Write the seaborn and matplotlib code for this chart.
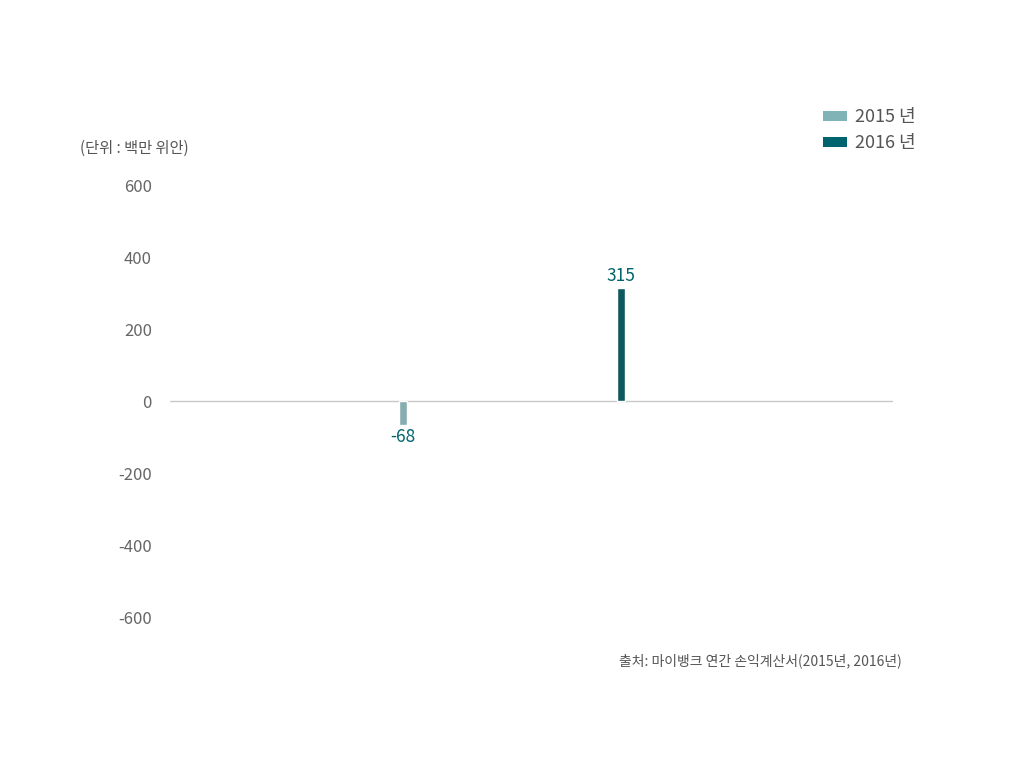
import matplotlib
matplotlib.use("Agg")
import matplotlib.pyplot as plt
import seaborn as sns
import pandas as pd
from matplotlib.patches import Patch

years = ["2015 년", "2016 년"]
values = [-68, 315]
value_labels = ["-68", "315"]
yticks = [-600, -400, -200, 0, 200, 400, 600]
ytick_labels = ["-600", "-400", "-200", "0", "200", "400", "600"]
colors = ["#7fb3b6", "#00646e"]

sns.set_theme(style="white")
plt.rcParams['font.family'] = ['Noto Sans CJK KR', 'DejaVu Sans']

df = pd.DataFrame({"year": years, "value": values})

fig = plt.figure(figsize=(10.24, 7.69), dpi=100)
ax = fig.add_axes([170/1024, 1 - 617/769, (893-170)/1024, (617-185)/769])

sns.barplot(data=df, x="year", y="value", hue="year", palette=colors,
            dodge=False, width=0.037, ax=ax, legend=False)

ax.set_xlim(-1.07, 2.25)
ax.set_ylim(-600, 600)
ax.axhline(0, color="#c8c8c8", lw=1, zorder=0)
for s in ax.spines.values():
    s.set_visible(False)
ax.set_xticks([])
ax.set_xlabel("")
ax.set_ylabel("")
ax.set_yticks(yticks)
ax.set_yticklabels(ytick_labels, color="#666666", fontsize=12)
ax.tick_params(axis="y", length=0, pad=13)

for i, (v, lab) in enumerate(zip(values, value_labels)):
    if v >= 0:
        ax.annotate(lab, (i, v), xytext=(0, 2), textcoords="offset points",
                    ha="center", va="bottom", color="#00646e", fontsize=12.5)
    else:
        ax.annotate(lab, (i, v), xytext=(0, -2), textcoords="offset points",
                    ha="center", va="top", color="#00646e", fontsize=12.5)

handles = [Patch(facecolor=c, edgecolor="none") for c in colors]
fig.legend(handles, years, loc="upper right", bbox_to_anchor=(932/1024, 1 - 92/769),
           frameon=False, fontsize=13, handlelength=1.35, handleheight=0.45,
           labelspacing=0.45, handletextpad=0.45, labelcolor="#555555")

fig.text(80/1024, 1 - 148/769, "(단위 : 백만 위안)", fontsize=11, color="#555555",
         ha="left", va="center")
fig.text(902/1024, 1 - 661/769, "출처: 마이뱅크 연간 손익계산서(2015년, 2016년)", fontsize=10,
         color="#555555", ha="right", va="center")

fig.savefig("out.png", dpi=100)
